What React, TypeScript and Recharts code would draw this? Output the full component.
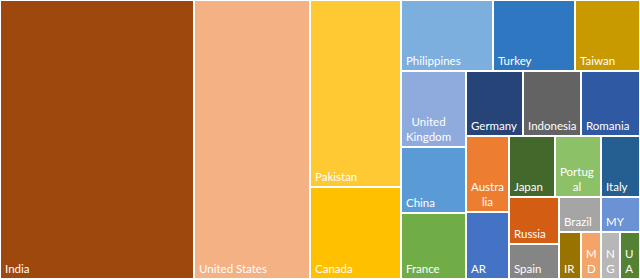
import React from 'react';
import { Treemap } from 'recharts';

const COUNTRIES = [
  'India', 'United States', 'Pakistan', 'Canada', 'Philippines', 'Turkey', 'Taiwan',
  'United Kingdom', 'China', 'France', 'Germany', 'Indonesia', 'Romania', 'Australia',
  'AR', 'Japan', 'Portugal', 'Italy', 'Russia', 'Spain', 'Brazil', 'MY', 'IR', 'MD', 'NG', 'UA',
];

const VALUES = [
  5413, 3236, 1702, 837, 653, 582, 462,
  494, 429, 429, 371, 377, 384, 327,
  281, 281, 284, 238, 237, 177, 145, 138, 101, 94, 89, 96,
];

// tiles that share one strip, in the order they are laid out
const STRIPS = [
  ['India'],
  ['United States'],
  ['Pakistan', 'Canada'],
  ['Philippines', 'Turkey', 'Taiwan'],
  ['United Kingdom', 'China', 'France'],
  ['Germany', 'Indonesia', 'Romania'],
  ['Australia', 'AR'],
  ['Japan', 'Portugal', 'Italy'],
  ['Russia', 'Spain'],
  ['Brazil', 'MY'],
  ['IR'],
  ['MD'],
  ['NG', 'UA'],
];

const COLORS: Record<string, string> = {
  India: '#9e480e',
  'United States': '#f4b183',
  Pakistan: '#ffc934',
  Canada: '#ffc000',
  Philippines: '#7caede',
  Turkey: '#2f78c1',
  Taiwan: '#c99a00',
  'United Kingdom': '#8faadc',
  China: '#5b9bd5',
  France: '#70ad47',
  Germany: '#264478',
  Indonesia: '#636363',
  Romania: '#2f59a2',
  Australia: '#ed7d31',
  AR: '#4472c4',
  Japan: '#43682b',
  Portugal: '#8cc168',
  Italy: '#255e91',
  Russia: '#d35e13',
  Spain: '#858585',
  Brazil: '#a5a5a5',
  MY: '#6a92d4',
  IR: '#997300',
  MD: '#f4a466',
  NG: '#b7b7b7',
  UA: '#548235',
};

const leaf = (name: string) => ({ name, value: VALUES[COUNTRIES.indexOf(name)] });

// each strip followed by a group holding everything after it
const chain = (k: number): any[] => {
  const items = STRIPS[k].map(leaf);
  if (k === STRIPS.length - 1) return items;
  return [...items, { name: `rest-${k}`, children: chain(k + 1) }];
};

const treeData = chain(0);

const FONT = '11.5px Lato';
let ctx: CanvasRenderingContext2D | null = null;
const measure = (s: string) => {
  if (!ctx) ctx = document.createElement('canvas').getContext('2d');
  if (!ctx) return s.length * 6;
  ctx.font = FONT;
  return ctx.measureText(s).width;
};

const wrap = (text: string, maxW: number) => {
  if (measure(text) <= maxW) return [text];
  const lines: string[] = [];
  text.split(' ').forEach((word) => {
    let cur = '';
    for (const ch of word) {
      if (cur && measure(cur + ch) > maxW) {
        lines.push(cur);
        cur = ch;
      } else cur += ch;
    }
    lines.push(cur);
  });
  return lines;
};

const Tile = (props: any) => {
  const { x, y, width, height, name, children } = props;
  if ((children && children.length) || !COLORS[name]) return <g />;
  const pad = 5;
  const lines = wrap(name, width - 2 * pad + 1);
  const blockW = Math.max(...lines.map(measure));
  const lh = 15.5;
  const base = y + height - 6;
  return (
    <g>
      <rect x={x} y={y} width={width} height={height} fill={COLORS[name]} stroke="#fff" strokeWidth={2} />
      {lines.map((l, i) => (
        <text
          key={i}
          x={lines.length > 1 ? x + pad + blockW / 2 : x + pad}
          y={base - (lines.length - 1 - i) * lh}
          textAnchor={lines.length > 1 ? 'middle' : 'start'}
          fill="#fff"
          stroke="none"
          style={{ font: FONT }}
        >
          {l}
        </text>
      ))}
    </g>
  );
};

export default function App() {
  return (
    <div style={{ position: 'absolute', left: 0, top: 0 }}>
      <Treemap
        width={640}
        height={279}
        data={treeData}
        dataKey="value"
        aspectRatio={1.225}
        isAnimationActive={false}
        content={<Tile />}
      />
    </div>
  );
}
